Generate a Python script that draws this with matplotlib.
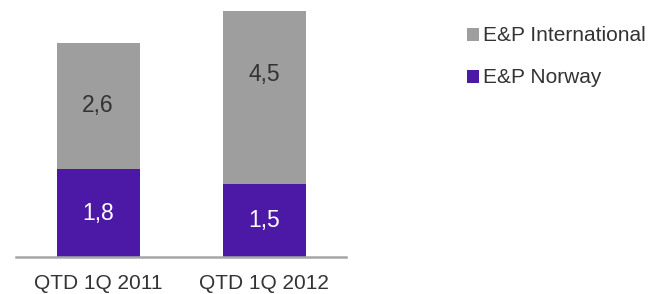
import matplotlib.pyplot as plt
import numpy as np

plt.rcParams['font.family'] = ['Liberation Sans', 'DejaVu Sans']

categories = ["QTD 1Q 2011", "QTD 1Q 2012"]
norway = [1.8, 1.5]
international = [2.6, 4.5]
norway_labels = ["1,8", "1,5"]
international_labels = ["2,6", "4,5"]

purple = "#4B19A5"
grey = "#9E9E9E"
text_dark = "#333333"

fig = plt.figure(figsize=(6.52, 2.94), dpi=100)
ax = fig.add_axes([0.0245, 0.126, 0.5065, 0.837])

x = np.arange(len(categories))
b1 = ax.bar(x, norway, width=0.5, color=purple, label="E&P Norway")
b2 = ax.bar(x, international, width=0.5, bottom=norway, color=grey,
            label="E&P International")

# value labels centred in each segment
for i in range(len(categories)):
    ax.text(x[i], norway[i] / 2, norway_labels[i], ha="center", va="center",
            color="white", fontsize=16.5)
    ax.text(x[i], norway[i] + international[i] / 2, international_labels[i],
            ha="center", va="center", color=text_dark, fontsize=16.5)

ax.set_xlim(-0.494, 1.494)
ax.set_ylim(0, 5.05)
ax.set_yticks([])
ax.set_xticks(x)
ax.set_xticklabels(categories, fontsize=15, color=text_dark)
ax.tick_params(axis="x", length=0, pad=12)
for s in ["top", "right", "left"]:
    ax.spines[s].set_visible(False)
ax.spines["bottom"].set_color("#A6A6A6")
ax.spines["bottom"].set_linewidth(1.8)

fig.legend(handles=[b2, b1], labels=["E&P International", "E&P Norway"],
           loc="upper left", bbox_to_anchor=(0.716, 0.91), frameon=False,
           fontsize=15, handlelength=0.58, handleheight=0.58,
           handletextpad=0.18, labelspacing=1.1, borderpad=0,
           borderaxespad=0, labelcolor=text_dark)

fig.savefig("out.png", dpi=100)
